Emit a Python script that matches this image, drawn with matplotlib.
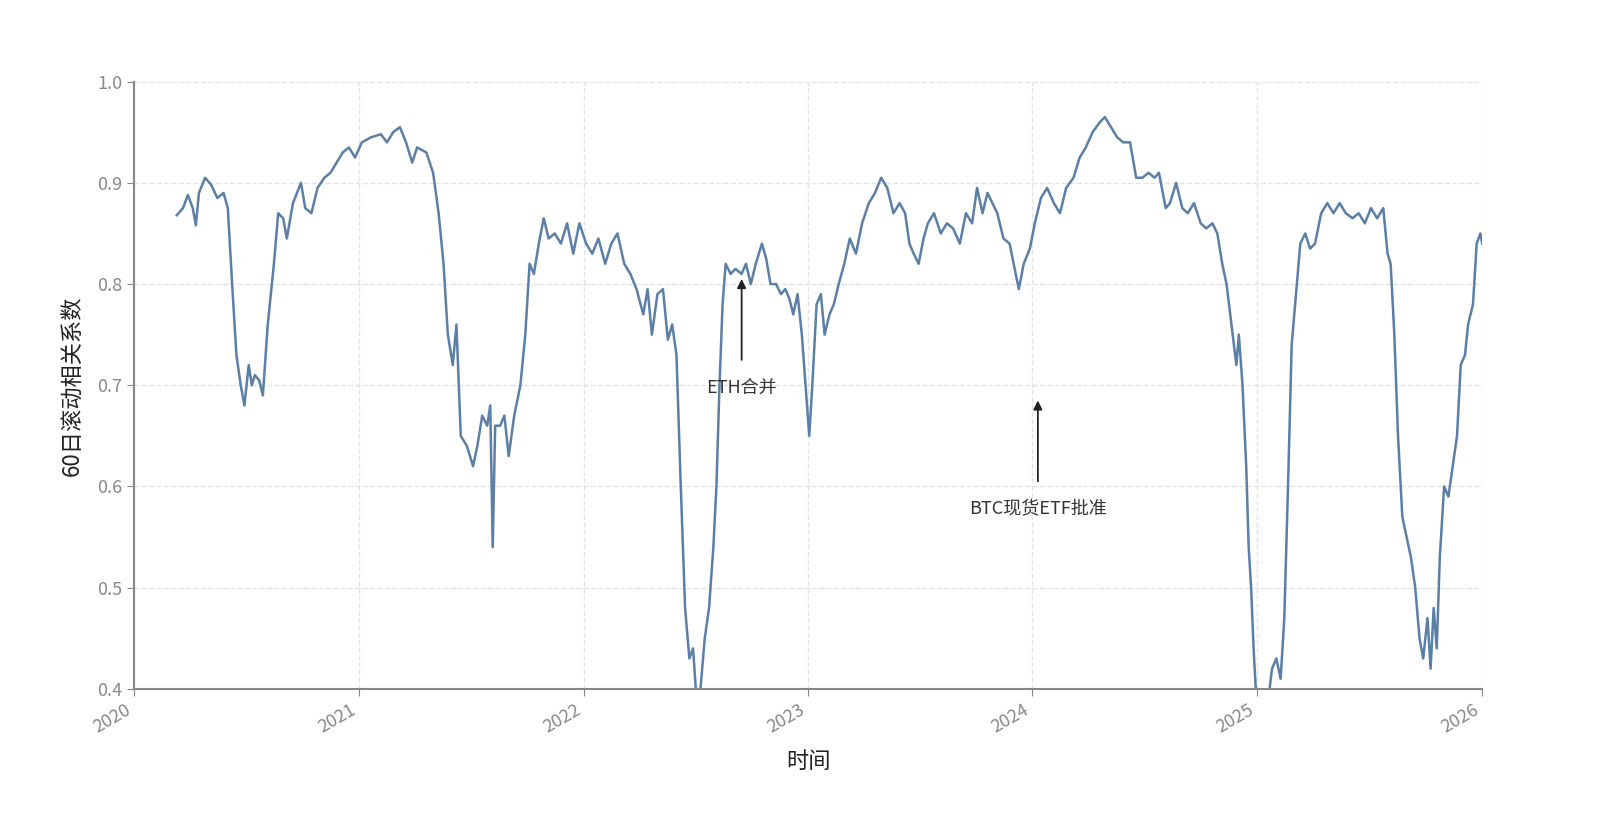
import matplotlib
matplotlib.use("Agg")
import matplotlib.pyplot as plt
import matplotlib.dates as mdates
import pandas as pd

plt.rcParams['font.family'] = ['Noto Sans CJK SC', 'DejaVu Sans']

dates = [
    "2020-03-10", "2020-03-20", "2020-03-28", "2020-04-05", "2020-04-10", "2020-04-15", "2020-04-25",
    "2020-05-05", "2020-05-15", "2020-05-25", "2020-06-01", "2020-06-08", "2020-06-15", "2020-06-22",
    "2020-06-28", "2020-07-05", "2020-07-10", "2020-07-15", "2020-07-22", "2020-07-28", "2020-08-05",
    "2020-08-15", "2020-08-22", "2020-08-30", "2020-09-05", "2020-09-15", "2020-09-28", "2020-10-05",
    "2020-10-15", "2020-10-25", "2020-11-05", "2020-11-15", "2020-11-25", "2020-12-05", "2020-12-15",
    "2020-12-25", "2021-01-05", "2021-01-20", "2021-02-05", "2021-02-15", "2021-02-25", "2021-03-08",
    "2021-03-18", "2021-03-28", "2021-04-05", "2021-04-20", "2021-05-01", "2021-05-10", "2021-05-18",
    "2021-05-25", "2021-06-02", "2021-06-08", "2021-06-15", "2021-06-25", "2021-07-05", "2021-07-12",
    "2021-07-20", "2021-07-28", "2021-08-02", "2021-08-06", "2021-08-10", "2021-08-18", "2021-08-25",
    "2021-09-01", "2021-09-10", "2021-09-20", "2021-09-28", "2021-10-05", "2021-10-12", "2021-10-20",
    "2021-10-28", "2021-11-05", "2021-11-15", "2021-11-25", "2021-12-05", "2021-12-15", "2021-12-25",
    "2022-01-05", "2022-01-15", "2022-01-25", "2022-02-05", "2022-02-15", "2022-02-25", "2022-03-08",
    "2022-03-18", "2022-03-28", "2022-04-08", "2022-04-15", "2022-04-22", "2022-05-01", "2022-05-10",
    "2022-05-18", "2022-05-25", "2022-06-01", "2022-06-08", "2022-06-15", "2022-06-22", "2022-06-28",
    "2022-07-03", "2022-07-10", "2022-07-17", "2022-07-24", "2022-07-31", "2022-08-05", "2022-08-10",
    "2022-08-15", "2022-08-20", "2022-08-28", "2022-09-05", "2022-09-15", "2022-09-22", "2022-09-30",
    "2022-10-08", "2022-10-18", "2022-10-25", "2022-11-01", "2022-11-10", "2022-11-18", "2022-11-25",
    "2022-12-02", "2022-12-08", "2022-12-15", "2022-12-22", "2022-12-28", "2023-01-03", "2023-01-08",
    "2023-01-15", "2023-01-22", "2023-01-28", "2023-02-05", "2023-02-12", "2023-02-20", "2023-03-01",
    "2023-03-10", "2023-03-20", "2023-03-30", "2023-04-10", "2023-04-20", "2023-04-30", "2023-05-10",
    "2023-05-20", "2023-05-30", "2023-06-08", "2023-06-15", "2023-06-22", "2023-06-30", "2023-07-08",
    "2023-07-15", "2023-07-25", "2023-08-05", "2023-08-15", "2023-08-25", "2023-09-05", "2023-09-15",
    "2023-09-25", "2023-10-03", "2023-10-12", "2023-10-20", "2023-10-28", "2023-11-05", "2023-11-15",
    "2023-11-25", "2023-12-05", "2023-12-10", "2023-12-18", "2023-12-28", "2024-01-05", "2024-01-15",
    "2024-01-25", "2024-02-05", "2024-02-15", "2024-02-25", "2024-03-08", "2024-03-18", "2024-03-28",
    "2024-04-08", "2024-04-20", "2024-04-28", "2024-05-08", "2024-05-18", "2024-05-28", "2024-06-08",
    "2024-06-18", "2024-06-28", "2024-07-08", "2024-07-18", "2024-07-25", "2024-08-05", "2024-08-12",
    "2024-08-22", "2024-09-01", "2024-09-10", "2024-09-20", "2024-10-01", "2024-10-10", "2024-10-20",
    "2024-10-28", "2024-11-05", "2024-11-12", "2024-11-20", "2024-11-28", "2024-12-02", "2024-12-08",
    "2024-12-14", "2024-12-18", "2024-12-22", "2024-12-26", "2024-12-30", "2025-01-20", "2025-01-25",
    "2025-02-01", "2025-02-08", "2025-02-14", "2025-02-20", "2025-02-26", "2025-03-05", "2025-03-12",
    "2025-03-20", "2025-03-28", "2025-04-05", "2025-04-15", "2025-04-25", "2025-05-05", "2025-05-15",
    "2025-05-25", "2025-06-05", "2025-06-15", "2025-06-25", "2025-07-05", "2025-07-15", "2025-07-25",
    "2025-08-01", "2025-08-06", "2025-08-12", "2025-08-18", "2025-08-25", "2025-09-01", "2025-09-08",
    "2025-09-15", "2025-09-22", "2025-09-28", "2025-10-05", "2025-10-10", "2025-10-15", "2025-10-20",
    "2025-10-25", "2025-11-01", "2025-11-08", "2025-11-15", "2025-11-22", "2025-11-28", "2025-12-05",
    "2025-12-10", "2025-12-18", "2025-12-24", "2025-12-30", "2026-01-02",
]
corr = [
    0.868, 0.875, 0.888, 0.875, 0.858, 0.89, 0.905,
    0.898, 0.885, 0.89, 0.875, 0.8, 0.73, 0.7,
    0.68, 0.72, 0.7, 0.71, 0.705, 0.69, 0.76,
    0.82, 0.87, 0.865, 0.845, 0.88, 0.9, 0.875,
    0.87, 0.895, 0.905, 0.91, 0.92, 0.93, 0.935,
    0.925, 0.94, 0.945, 0.948, 0.94, 0.95, 0.955,
    0.94, 0.92, 0.935, 0.93, 0.91, 0.87, 0.82,
    0.75, 0.72, 0.76, 0.65, 0.64, 0.62, 0.64,
    0.67, 0.66, 0.68, 0.54, 0.66, 0.66, 0.67,
    0.63, 0.67, 0.7, 0.75, 0.82, 0.81, 0.84,
    0.865, 0.845, 0.85, 0.84, 0.86, 0.83, 0.86,
    0.84, 0.83, 0.845, 0.82, 0.84, 0.85, 0.82,
    0.81, 0.795, 0.77, 0.795, 0.75, 0.79, 0.795,
    0.745, 0.76, 0.73, 0.6, 0.48, 0.43, 0.44,
    0.395, 0.4, 0.45, 0.48, 0.54, 0.6, 0.7,
    0.78, 0.82, 0.81, 0.815, 0.81, 0.82, 0.8,
    0.82, 0.84, 0.825, 0.8, 0.8, 0.79, 0.795,
    0.785, 0.77, 0.79, 0.75, 0.7, 0.65, 0.7,
    0.78, 0.79, 0.75, 0.77, 0.78, 0.8, 0.82,
    0.845, 0.83, 0.86, 0.88, 0.89, 0.905, 0.895,
    0.87, 0.88, 0.87, 0.84, 0.83, 0.82, 0.845,
    0.86, 0.87, 0.85, 0.86, 0.855, 0.84, 0.87,
    0.86, 0.895, 0.87, 0.89, 0.88, 0.87, 0.845,
    0.84, 0.81, 0.795, 0.82, 0.835, 0.86, 0.885,
    0.895, 0.88, 0.87, 0.895, 0.905, 0.925, 0.935,
    0.95, 0.96, 0.965, 0.955, 0.945, 0.94, 0.94,
    0.905, 0.905, 0.91, 0.905, 0.91, 0.875, 0.88,
    0.9, 0.875, 0.87, 0.88, 0.86, 0.855, 0.86,
    0.85, 0.82, 0.8, 0.76, 0.72, 0.75, 0.7,
    0.62, 0.54, 0.5, 0.44, 0.395, 0.395, 0.42,
    0.43, 0.41, 0.47, 0.6, 0.74, 0.79, 0.84,
    0.85, 0.835, 0.84, 0.87, 0.88, 0.87, 0.88,
    0.87, 0.865, 0.87, 0.86, 0.875, 0.865, 0.875,
    0.83, 0.82, 0.75, 0.65, 0.57, 0.55, 0.53,
    0.5, 0.45, 0.43, 0.47, 0.42, 0.48, 0.44,
    0.53, 0.6, 0.59, 0.62, 0.65, 0.72, 0.73,
    0.76, 0.78, 0.84, 0.85, 0.84,
]

events = ["ETH合并", "BTC现货ETF批准"]
event_dates = ["2022-09-15", "2024-01-10"]
event_tips = [0.805, 0.685]
event_text_y = [0.697, 0.577]

x = pd.to_datetime(dates)
fig = plt.figure(figsize=(16, 8.33), dpi=100)
ax = fig.add_axes([0.084, 0.173, 0.842, 0.729])
ax.plot(x, corr, color="#5b7fa6", lw=1.8)

for name, d, tip, ty in zip(events, event_dates, event_tips, event_text_y):
    ax.annotate(name, xy=(pd.Timestamp(d), tip), xytext=(pd.Timestamp(d), ty),
                ha="center", va="center", fontsize=13, color="#333333",
                arrowprops=dict(arrowstyle="-|>", color="#222222", lw=1.3, shrinkA=12, shrinkB=0))

ax.set_xlim(pd.Timestamp("2020-01-01"), pd.Timestamp("2026-01-01"))
ax.set_ylim(0.4, 1.0)
ax.xaxis.set_major_locator(mdates.YearLocator())
ax.xaxis.set_major_formatter(mdates.DateFormatter("%Y"))
ax.set_yticks([0.4, 0.5, 0.6, 0.7, 0.8, 0.9, 1.0])
ax.grid(True, linestyle="--", color="#e3e3e3", lw=1)
for s in ["top", "right"]:
    ax.spines[s].set_visible(False)
for s in ["left", "bottom"]:
    ax.spines[s].set_color("#888888")
    ax.spines[s].set_linewidth(1.5)
ax.tick_params(colors="#888888", labelsize=13, length=5)
for lbl in ax.get_xticklabels():
    lbl.set_rotation(30)
    lbl.set_ha("right")
ax.set_xlabel("时间", fontsize=16, color="#222222", labelpad=10)
ax.set_ylabel("60日滚动相关系数", fontsize=16, color="#222222", labelpad=10)

fig.savefig("out.png")
